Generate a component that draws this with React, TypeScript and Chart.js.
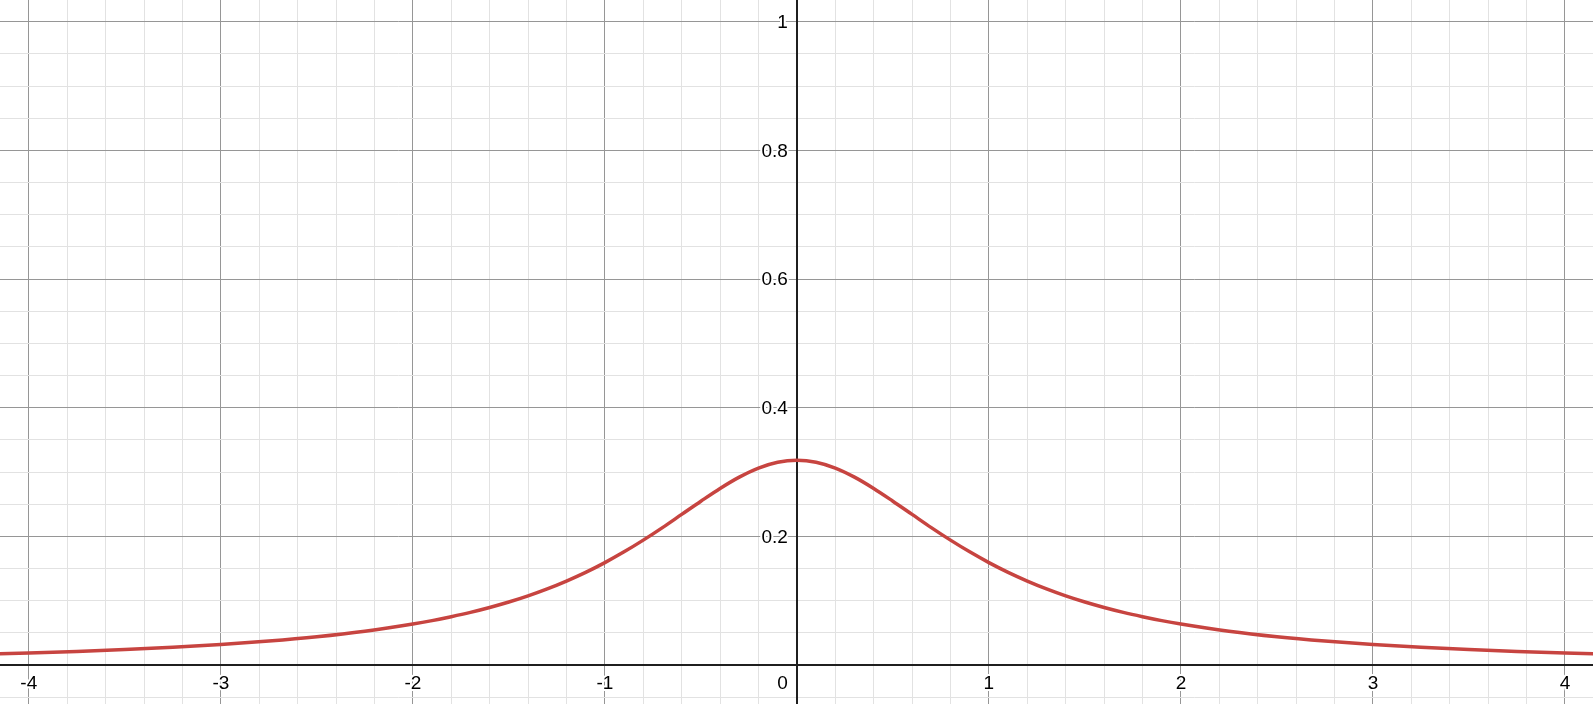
import { useEffect, useRef } from 'react'
import { Chart, registerables } from 'chart.js'

Chart.register(...registerables)

// curve points
const xs = [
  -4.3, -4.0, -3.75, -3.5, -3.25, -3.0, -2.75, -2.5, -2.25, -2.0, -1.9, -1.8, -1.7, -1.6, -1.5, -1.4, -1.3, -1.2,
  -1.1, -1.0, -0.9, -0.8, -0.7, -0.6, -0.5, -0.4, -0.3, -0.2, -0.1, 0, 0.1, 0.2, 0.3, 0.4, 0.5, 0.6, 0.7, 0.8, 0.9,
  1.0, 1.1, 1.2, 1.3, 1.4, 1.5, 1.6, 1.7, 1.8, 1.9, 2.0, 2.25, 2.5, 2.75, 3.0, 3.25, 3.5, 3.75, 4.0, 4.3,
]
const ys = [
  0.0163, 0.0187, 0.0211, 0.024, 0.0275, 0.0318, 0.0372, 0.0439, 0.0525, 0.0637, 0.069, 0.0751, 0.0818, 0.0894,
  0.0979, 0.1075, 0.1183, 0.1305, 0.144, 0.1592, 0.1759, 0.1941, 0.2136, 0.2341, 0.2546, 0.2744, 0.292, 0.3061,
  0.3152, 0.3183, 0.3152, 0.3061, 0.292, 0.2744, 0.2546, 0.2341, 0.2136, 0.1941, 0.1759, 0.1592, 0.144, 0.1305,
  0.1183, 0.1075, 0.0979, 0.0894, 0.0818, 0.0751, 0.069, 0.0637, 0.0525, 0.0439, 0.0372, 0.0318, 0.0275, 0.024,
  0.0211, 0.0187, 0.0163,
]

const xTickLabels = ['-4', '-3', '-2', '-1', '1', '2', '3', '4']
const yTickLabels = ['0.2', '0.4', '0.6', '0.8', '1']
const originLabel = '0'

const LABEL_FONT = '19px "Liberation Sans", Arial, sans-serif'

const gridColor = (v: number, per: number) =>
  Math.abs(v * per - Math.round(v * per)) < 1e-6 ? '#969696' : '#e2e2e2'

// axis lines go over the grid, labels go on top of everything
const axes = {
  id: 'axes',
  beforeDatasetsDraw(chart: any) {
    const { ctx, scales, chartArea } = chart
    const x0 = Math.round(scales.x.getPixelForValue(0))
    const y0 = Math.round(scales.y.getPixelForValue(0))
    ctx.save()
    ctx.strokeStyle = '#1f1f1f'
    ctx.lineWidth = 2
    ctx.beginPath()
    ctx.moveTo(x0, chartArea.top)
    ctx.lineTo(x0, chartArea.bottom)
    ctx.moveTo(chartArea.left, y0)
    ctx.lineTo(chartArea.right, y0)
    ctx.stroke()
    ctx.restore()
  },
  afterDatasetsDraw(chart: any) {
    const { ctx, scales } = chart
    const x0 = scales.x.getPixelForValue(0)
    const y0 = scales.y.getPixelForValue(0)
    ctx.save()
    ctx.font = LABEL_FONT
    ctx.lineJoin = 'round'
    ctx.lineWidth = 4
    ctx.strokeStyle = '#ffffff'
    ctx.fillStyle = '#000000'
    const put = (t: string, x: number, y: number) => {
      ctx.strokeText(t, x, y)
      ctx.fillText(t, x, y)
    }
    ctx.textBaseline = 'middle'
    ctx.textAlign = 'center'
    xTickLabels.forEach((t) => put(t, scales.x.getPixelForValue(Number(t)), y0 + 19))
    ctx.textAlign = 'right'
    put(originLabel, x0 - 9, y0 + 19)
    yTickLabels.forEach((t) => put(t, x0 - 9, scales.y.getPixelForValue(Number(t)) + 1))
    ctx.restore()
  },
}

const CurveChart = () => {
  const canvasRef = useRef<HTMLCanvasElement>(null)

  useEffect(() => {
    const chart = new Chart(canvasRef.current!, {
      type: 'scatter',
      data: {
        datasets: [
          {
            data: xs.map((x, i) => ({ x, y: ys[i] })),
            showLine: true,
            borderColor: '#c74440',
            borderWidth: 3.5,
            pointRadius: 0,
            cubicInterpolationMode: 'monotone',
          },
        ],
      },
      options: {
        animation: false,
        responsive: true,
        maintainAspectRatio: false,
        layout: { padding: 0 },
        plugins: { legend: { display: false }, tooltip: { enabled: false } },
        scales: {
          x: {
            type: 'linear',
            min: -4.15,
            max: 4.146,
            border: { display: false },
            ticks: { display: false, stepSize: 0.2, includeBounds: false, maxTicksLimit: 1000 },
            grid: {
              drawTicks: false,
              color: (c: any) => gridColor(c.tick.value, 1),
            },
          },
          y: {
            type: 'linear',
            min: -0.0606,
            max: 1.0337,
            border: { display: false },
            ticks: { display: false, stepSize: 0.05, includeBounds: false, maxTicksLimit: 1000 },
            grid: {
              drawTicks: false,
              color: (c: any) => gridColor(c.tick.value, 5),
            },
          },
        },
      },
      plugins: [axes],
    })

    return () => chart.destroy()
  }, [])

  return <canvas ref={canvasRef}></canvas>
}

export default function App() {
  return (
    <div style={{ position: 'fixed', left: 0, top: 0, width: '100vw', height: '100vh', background: '#fff' }}>
      <CurveChart />
    </div>
  )
}
